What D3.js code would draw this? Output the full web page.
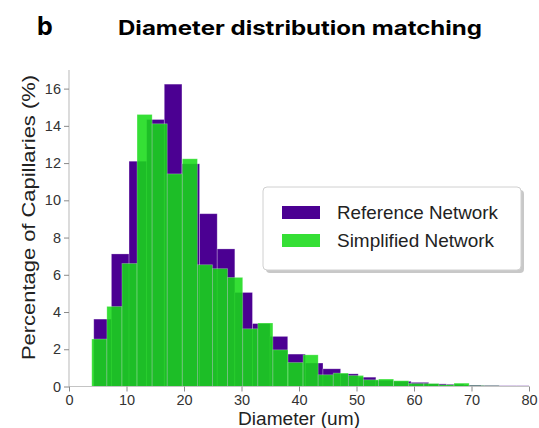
<!DOCTYPE html>
<html>
<head>
<meta charset="utf-8">
<script src="https://cdn.jsdelivr.net/npm/d3@7"></script>
<style>
  body { margin: 0; background: #fff; }
  svg { display: block; }
</style>
</head>
<body>
<div id="chart"></div>
<script>
// histogram bins (diameter in um) and percentages
const refBinStart = 4.31, refBinWidth = 3.066;
const refPercent = [3.62, 7.12, 12.10, 14.34, 16.24, 11.96, 9.28, 7.39, 5.05, 3.38,
    2.69, 1.74, 1.26, 0.95, 0.68, 0.50, 0.33, 0.28, 0.22, 0.14,
    0.12, 0.08, 0.06, 0.04, 0.04];

const simBinStart = 3.96, simBinWidth = 2.625;
const simPercent = [2.55, 4.30, 6.61, 14.61, 14.11, 11.42, 12.23, 6.54, 6.33, 5.86,
    3.10, 3.41, 1.97, 1.29, 1.70, 0.63, 0.72, 0.59, 0.36, 0.40,
    0.31, 0.16, 0.16, 0.09, 0.18, 0.05, 0.04];

const xTicks = [0, 10, 20, 30, 40, 50, 60, 70, 80];
const yTicks = [0, 2, 4, 6, 8, 10, 12, 14, 16];
const seriesNames = ['Reference Network', 'Simplified Network'];

const width = 539, height = 428;
const margin = { top: 70, right: 10, bottom: 41.5, left: 69 };

const purple = '#4b0092',
    green = '#17da17';

const svg = d3.select('#chart')
    .append('svg')
    .attr('width', width)
    .attr('height', height)
    .style('font-family', '"Liberation Sans", Arial, sans-serif');

const x = d3.scaleLinear().domain([0, 80]).range([margin.left, width - margin.right]);
const y = d3.scaleLinear().domain([0, 17]).range([height - margin.bottom, margin.top]);

svg.append('defs').append('clipPath')
    .attr('id', 'plot-clip')
    .append('rect')
    .attr('x', x(0)).attr('y', y(17))
    .attr('width', x(80) - x(0)).attr('height', y(0) - y(17));

const toBins = (start, w, values) => values.map((v, i) => ({
    x0: start + i * w,
    x1: start + (i + 1) * w,
    v: v
}));

const bars = svg.append('g').attr('clip-path', 'url(#plot-clip)');

// reference first, simplified drawn over it half see-through
bars.append('g')
    .selectAll('rect')
    .data(toBins(refBinStart, refBinWidth, refPercent))
    .join('rect')
    .attr('x', d => x(d.x0))
    .attr('width', d => x(d.x1) - x(d.x0))
    .attr('y', d => y(d.v))
    .attr('height', d => y(0) - y(d.v))
    .attr('fill', purple)
    .attr('stroke', '#fff')
    .attr('stroke-opacity', 0.3)
    .attr('stroke-width', 0.8);

bars.append('g')
    .selectAll('rect')
    .data(toBins(simBinStart, simBinWidth, simPercent))
    .join('rect')
    .attr('x', d => x(d.x0))
    .attr('width', d => x(d.x1) - x(d.x0))
    .attr('y', d => y(d.v))
    .attr('height', d => y(0) - y(d.v))
    .attr('fill', green)
    .attr('fill-opacity', 0.87)
    .attr('stroke', '#fff')
    .attr('stroke-opacity', 0.3)
    .attr('stroke-width', 0.8);

// axes
const xAxis = svg.append('g')
    .attr('transform', `translate(0,${y(0)})`)
    .call(d3.axisBottom(x).tickValues(xTicks).tickSize(5).tickPadding(3));

const yAxis = svg.append('g')
    .attr('transform', `translate(${x(0)},0)`)
    .call(d3.axisLeft(y).tickValues(yTicks).tickSize(5).tickPadding(3));

[xAxis, yAxis].forEach(g => {
    g.select('.domain').attr('stroke', '#c4c4c4').attr('stroke-width', 1.2);
    g.selectAll('.tick line').attr('stroke', '#8a8a8a');
    g.selectAll('.tick text')
        .attr('fill', '#333')
        .style('font-size', '14.5px')
        .style('font-family', '"Liberation Sans", Arial, sans-serif');
});
yAxis.select('.domain').attr('d', `M0,${y(17)}V${y(0)}`);
xAxis.select('.domain').attr('d', `M0,0H${x(80)}`).attr('transform', `translate(0,0)`);
xAxis.select('.domain').attr('d', `M${x(0)},0H${x(80)}`);

// axis titles
svg.append('text')
    .attr('x', 299)
    .attr('y', 425)
    .attr('text-anchor', 'middle')
    .attr('fill', '#222')
    .attr('font-size', 17.5)
    .attr('textLength', 122)
    .attr('lengthAdjust', 'spacingAndGlyphs')
    .text('Diameter (um)');

svg.append('text')
    .attr('transform', 'translate(34.5,217.5) rotate(-90)')
    .attr('text-anchor', 'middle')
    .attr('fill', '#222')
    .attr('font-size', 18)
    .attr('textLength', 285)
    .attr('lengthAdjust', 'spacingAndGlyphs')
    .text('Percentage of Capillaries (%)');

// title and panel letter
svg.append('text')
    .attr('x', 37)
    .attr('y', 35)
    .attr('font-family', 'Inter, "Liberation Sans", sans-serif')
    .attr('font-weight', 700)
    .attr('font-size', 25)
    .attr('fill', '#000')
    .text('b');

svg.append('text')
    .attr('x', 118)
    .attr('y', 35)
    .attr('font-family', 'Inter, "Noto Sans", sans-serif')
    .attr('font-weight', 700)
    .attr('font-size', 20)
    .attr('fill', '#000')
    .attr('textLength', 364)
    .attr('lengthAdjust', 'spacingAndGlyphs')
    .text('Diameter distribution matching');

// legend
const legend = svg.append('g').attr('transform', 'translate(263,187)');

legend.append('rect')
    .attr('x', 3).attr('y', 3)
    .attr('width', 258).attr('height', 83)
    .attr('rx', 4)
    .attr('fill', '#9a9a9a')
    .attr('opacity', 0.55);

legend.append('rect')
    .attr('width', 258).attr('height', 83)
    .attr('rx', 4)
    .attr('fill', '#fff')
    .attr('stroke', '#d0d0d0');

const items = legend.selectAll('g.item')
    .data(seriesNames)
    .join('g')
    .attr('class', 'item')
    .attr('transform', (d, i) => `translate(0,${19 + i * 28})`);

items.append('rect')
    .attr('x', 19)
    .attr('width', 38)
    .attr('height', 13)
    .attr('fill', (d, i) => i === 0 ? purple : green)
    .attr('fill-opacity', (d, i) => i === 0 ? 1 : 0.87);

items.append('text')
    .attr('x', 74)
    .attr('y', 13)
    .attr('fill', '#222')
    .attr('font-size', 18.5)
    .attr('textLength', (d, i) => i === 0 ? 161 : 157)
    .attr('lengthAdjust', 'spacingAndGlyphs')
    .text(d => d);
</script>
</body>
</html>
